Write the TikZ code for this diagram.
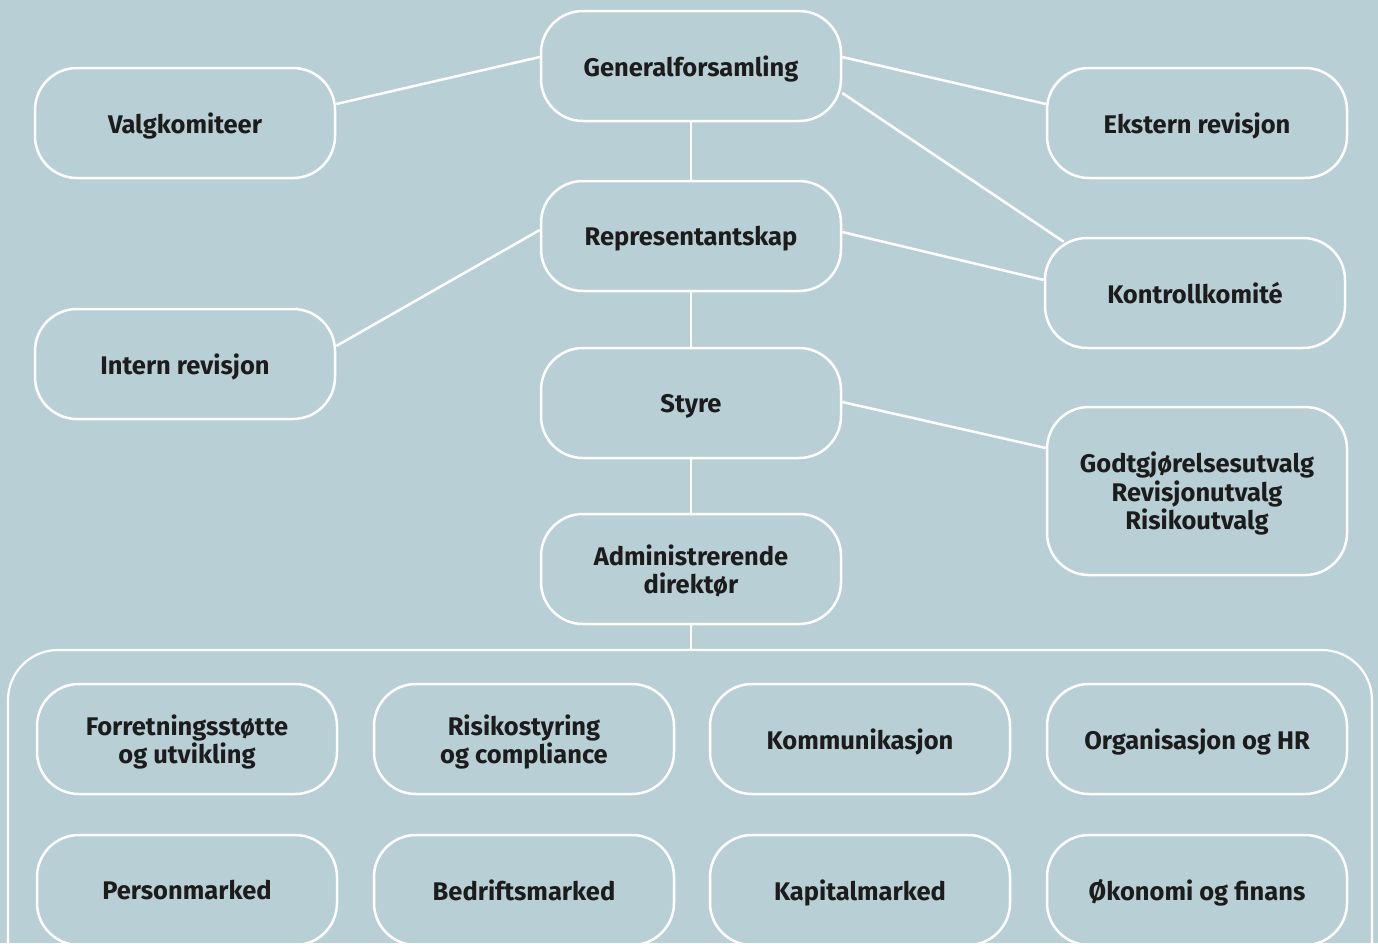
\documentclass[tikz,border=0pt]{standalone}
\usepackage{fontspec}
\setmainfont{Fira Sans}
\definecolor{bgc}{HTML}{B9CFD6}
\definecolor{txt}{HTML}{1C1C1C}
\begin{document}
\begin{tikzpicture}[x=1pt,y=-1pt,
  box/.style={draw=white, line width=2.5pt, rounded corners=42pt, minimum width=300pt, minimum height=110pt, inner sep=0pt, text depth=0pt, align=center, text=txt, font=\fontsize{25.5}{28.5}\selectfont\bfseries},
  tallbox/.style={box, minimum height=168pt},
  link/.style={draw=white, line width=2.5pt}]
\path[use as bounding box] (0,0) rectangle (1378,943);
\fill[bgc] (0,0) rectangle (1378,943);
\clip (0,0) rectangle (1378,943);
\node[box] (gen) at (691,66) {Generalforsamling};
\node[box] (valg) at (185,123) {Valgkomiteer};
\node[box] (ekst) at (1197,123) {Ekstern revisjon};
\node[box] (rep) at (691,236) {Representantskap};
\node[box] (kon) at (1195,293) {Kontrollkomité};
\node[box] (intern) at (185,364) {Intern revisjon};
\node[box] (styre) at (691,403) {Styre};
\node[tallbox] (godt) at (1197,491) {Godtgjørelsesutvalg\\Revisjonutvalg\\Risikoutvalg};
\node[box] (adm) at (691,569) {Administrerende\\direktør};
\coordinate (ctop) at (691,650);
\draw[draw=white, line width=2.2pt, rounded corners=50pt] (8,990) -- (8,650) -- (1372,650) -- (1372,990);
\node[box] (f1) at (187,739) {Forretningsstøtte\\og utvikling};
\node[box] (f2) at (524,739) {Risikostyring\\og compliance};
\node[box] (f3) at (860,739) {Kommunikasjon};
\node[box] (f4) at (1197,739) {Organisasjon og HR};
\node[box] (p1) at (187,890) {Personmarked};
\node[box] (p2) at (524,890) {Bedriftsmarked};
\node[box] (p3) at (860,890) {Kapitalmarked};
\node[box] (p4) at (1197,890) {Økonomi og finans};
\draw[link] ([yshift=9pt]gen.west) -- ([yshift=19pt]valg.east);
\draw[link] ([yshift=9pt]gen.east) -- ([yshift=19pt]ekst.west);
\draw[link] ([yshift=-27pt]gen.east) -- ([xshift=20pt,yshift=-5pt]kon.north west);
\draw[link] (gen.south) -- (rep.north);
\draw[link] ([yshift=6pt]rep.west) -- ([yshift=18pt]intern.east);
\draw[link] ([yshift=4pt]rep.east) -- ([yshift=13pt]kon.west);
\draw[link] (rep.south) -- (styre.north);
\draw[link] ([yshift=1pt]styre.east) -- ([yshift=43pt]godt.west);
\draw[link] (styre.south) -- (adm.north);
\draw[link] (adm.south) -- (ctop);
\end{tikzpicture}
\end{document}
